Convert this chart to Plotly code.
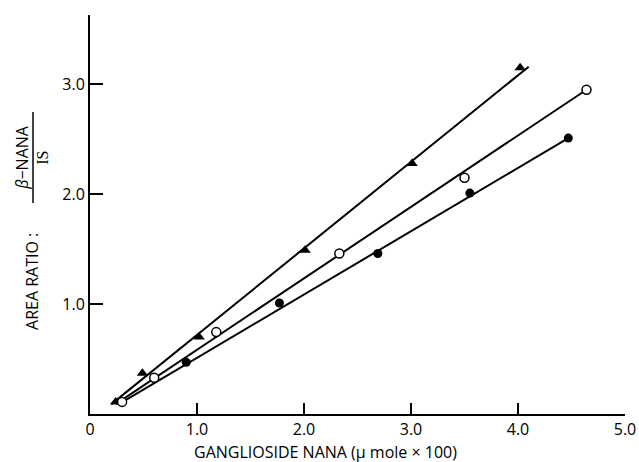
import plotly.graph_objects as go

# Data
tri_x = [0.24, 0.49, 1.02, 2.01, 3.01, 4.02]
tri_y = [0.11, 0.37, 0.70, 1.49, 2.28, 3.15]
open_x = [0.30, 0.60, 1.18, 2.33, 3.50, 4.64]
open_y = [0.11, 0.33, 0.745, 1.46, 2.15, 2.95]
fill_x = [0.90, 1.77, 2.69, 3.55, 4.47]
fill_y = [0.47, 1.01, 1.46, 2.01, 2.51]

# fitted line end points
tri_line_x = [0.20, 4.10]
tri_line_y = [0.09, 3.16]
open_line_x = [0.24, 4.64]
open_line_y = [0.09, 2.95]
fill_line_x = [0.27, 4.47]
fill_line_y = [0.09, 2.51]

x_tickvals = [0, 1, 2, 3, 4, 5]
x_ticktext = ["0", "1.0", "2.0", "3.0", "4.0", "5.0"]
y_tickvals = [1, 2, 3]
y_ticktext = ["1.0", "2.0", "3.0"]
x_title = "GANGLIOSIDE NANA (μ mole × 100)"

FONT = "Open Sans"
fig = go.Figure()

for lx, ly in [(tri_line_x, tri_line_y), (open_line_x, open_line_y), (fill_line_x, fill_line_y)]:
    fig.add_trace(go.Scatter(x=lx, y=ly, mode="lines",
                             line=dict(color="black", width=2), showlegend=False))

fig.add_trace(go.Scatter(x=tri_x, y=tri_y, mode="markers", showlegend=False,
                         marker=dict(symbol="triangle-up", size=10, color="black")))
fig.add_trace(go.Scatter(x=open_x, y=open_y, mode="markers", showlegend=False,
                         marker=dict(symbol="circle", size=9, color="white",
                                     line=dict(color="black", width=1.5))))
fig.add_trace(go.Scatter(x=fill_x, y=fill_y, mode="markers", showlegend=False,
                         marker=dict(symbol="circle", size=9, color="black")))

fig.update_layout(
    width=639, height=462,
    margin=dict(l=90, r=14, t=15, b=48),
    paper_bgcolor="white", plot_bgcolor="white",
    font=dict(family=FONT, size=16, color="black"),
    xaxis=dict(range=[0, 5], tickvals=x_tickvals, ticktext=x_ticktext,
               automargin=False,
               showgrid=False, zeroline=False, showline=True, linecolor="black",
               linewidth=2, ticks="inside", ticklen=11, tickwidth=1.5,
               tickcolor="black"),
    yaxis=dict(range=[0, 3.63], tickvals=y_tickvals, ticktext=y_ticktext,
               automargin=False,
               showgrid=False, zeroline=False, showline=True, linecolor="black",
               linewidth=2, ticks="inside", ticklen=13, tickwidth=1.5,
               tickcolor="black"),
)

fig.add_annotation(text=x_title, xref="paper", yref="paper",
                   x=0.44, y=0, yshift=-38, xanchor="center", yanchor="middle",
                   showarrow=False, font=dict(family=FONT, size=16))
fig.add_annotation(text="AREA RATIO :", textangle=-90, xref="paper", yref="paper",
                   x=0, xshift=-58, y=0.331, xanchor="center", yanchor="middle",
                   showarrow=False, font=dict(family=FONT, size=16))
fig.add_annotation(text="<i>β</i>−NANA", textangle=-90, xref="paper", yref="paper",
                   x=0, xshift=-68, y=0.642, xanchor="center", yanchor="middle",
                   showarrow=False, font=dict(family=FONT, size=16))
fig.add_annotation(text="IS", textangle=-90, xref="paper", yref="paper",
                   x=0, xshift=-47, y=0.642, xanchor="center", yanchor="middle",
                   showarrow=False, font=dict(family="Liberation Serif", size=16))
fig.add_shape(type="line", xref="paper", yref="paper",
              x0=-0.1065, x1=-0.1065, y0=0.529, y1=0.757,
              line=dict(color="black", width=1.5))

fig.write_html("out.html")
